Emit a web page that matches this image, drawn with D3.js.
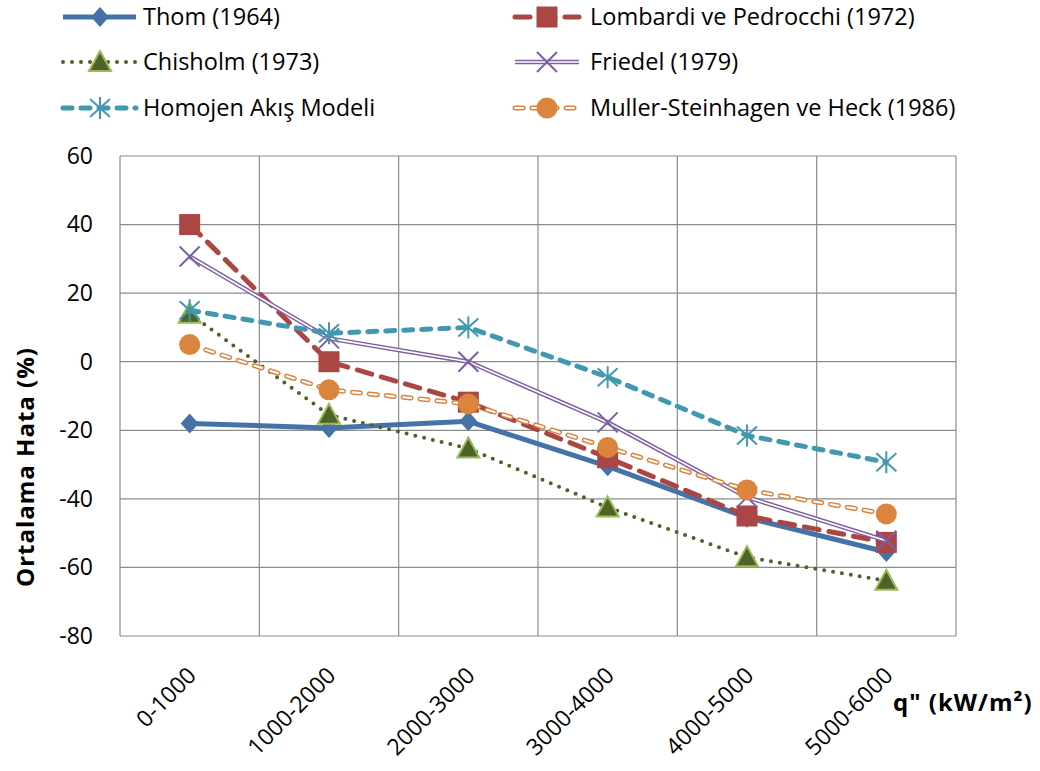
<html>
<script src="https://d3js.org/d3.v7.min.js"></script>
<style>
    body { margin: 0; background: #fff; }
    text { font-family: "Open Sans", sans-serif; fill: #000; }
</style>

<body>
    <script>
        var width = 1040;
        var height = 771;

        // data
        var categories = ["0-1000", "1000-2000", "2000-3000", "3000-4000", "4000-5000", "5000-6000"];
        var thom = [-18, -19.3, -17.4, -30.5, -45.5, -55.5];
        var lombardi = [40, 0, -11.8, -28, -45, -52.7];
        var chisholm = [14, -15.5, -25.3, -42.5, -57, -63.9];
        var friedel = [30.7, 6.8, 0, -17.7, -39.5, -52.2];
        var homojen = [15, 8.3, 10, -4.5, -21.5, -29.3];
        var muller = [5, -8.2, -12.3, -25, -37.4, -44.4];
        var yTicks = [60, 40, 20, 0, -20, -40, -60, -80];

        var series = [
            { name: "Thom (1964)", values: thom, marker: "diamond", color: "#4572A7", style: "solid" },
            { name: "Lombardi ve Pedrocchi (1972)", values: lombardi, marker: "square", color: "#AA4643", style: "dash" },
            { name: "Chisholm (1973)", values: chisholm, marker: "triangle", color: "#4F6228", style: "dot" },
            { name: "Friedel (1979)", values: friedel, marker: "x", color: "#7E5FA0", style: "double" },
            { name: "Homojen Akış Modeli", values: homojen, marker: "star", color: "#4198AF", style: "dash2" },
            { name: "Muller-Steinhagen ve Heck (1986)", values: muller, marker: "circle", color: "#DB843D", style: "doubledash" }
        ];

        var svg = d3.select("body").append("svg")
            .attr("width", width)
            .attr("height", height);

        var x = d3.scaleBand().domain(categories).range([120, 956]).padding(0);
        var y = d3.scaleLinear().domain([-80, 60]).range([636, 156]);
        var cx = d => x(d) + x.bandwidth() / 2;

        // grid
        var grid = svg.append("g");
        grid.selectAll(".h").data(yTicks).enter().append("line")
            .attr("x1", 120).attr("x2", 956)
            .attr("y1", d => y(d)).attr("y2", d => y(d))
            .attr("stroke", "#8c8c8c").attr("stroke-width", 1.2);
        grid.selectAll(".v").data(d3.range(categories.length + 1)).enter().append("line")
            .attr("x1", i => 120 + i * x.bandwidth()).attr("x2", i => 120 + i * x.bandwidth())
            .attr("y1", 156).attr("y2", 636)
            .attr("stroke", "#8c8c8c").attr("stroke-width", 1.2);

        // y axis labels
        var yAxis = svg.append("g").attr("transform", "translate(120,0)")
            .call(d3.axisLeft(y).tickValues(yTicks).tickSize(0).tickPadding(27).tickFormat(d => String(d)));
        yAxis.select(".domain").remove();
        yAxis.selectAll("text").style("font-size", "23px").style("font-family", "Open Sans");

        // x axis labels
        var xAxis = svg.append("g").attr("transform", "translate(0,636)")
            .call(d3.axisBottom(x).tickSize(0).tickPadding(0));
        xAxis.select(".domain").remove();
        xAxis.selectAll("text")
            .style("font-size", "23px").style("font-family", "Open Sans")
            .attr("text-anchor", "end")
            .attr("dy", 0).attr("y", 0)
            .attr("transform", "translate(8,41) rotate(-45)");

        svg.append("text")
            .attr("transform", "translate(34,467) rotate(-90)")
            .attr("text-anchor", "middle")
            .style("font-size", "24px").style("font-weight", "bold").style("letter-spacing", "1px")
            .text("Ortalama Hata (%)");

        svg.append("text")
            .attr("x", 893).attr("y", 711)
            .style("font-size", "24px").style("font-weight", "bold").style("letter-spacing", "1px")
            .text("q\" (kW/m²)");

        function strokeLine(g, s, pathFn) {
            var c = s.color;
            if (s.style == "solid") {
                g.append("path").attr("d", pathFn).attr("fill", "none").attr("stroke", c).attr("stroke-width", 5);
            } else if (s.style == "dash") {
                g.append("path").attr("d", pathFn).attr("fill", "none").attr("stroke", c).attr("stroke-width", 5)
                    .attr("stroke-dasharray", "15,10").attr("stroke-linecap", "round");
            } else if (s.style == "dash2") {
                g.append("path").attr("d", pathFn).attr("fill", "none").attr("stroke", c).attr("stroke-width", 5)
                    .attr("stroke-dasharray", "9,9").attr("stroke-linecap", "round");
            } else if (s.style == "dot") {
                g.append("path").attr("d", pathFn).attr("fill", "none").attr("stroke", c).attr("stroke-width", 4)
                    .attr("stroke-dasharray", "0,9").attr("stroke-linecap", "round");
            } else if (s.style == "double") {
                g.append("path").attr("d", pathFn).attr("fill", "none").attr("stroke", c).attr("stroke-width", 4.5);
                g.append("path").attr("d", pathFn).attr("fill", "none").attr("stroke", "#fff").attr("stroke-width", 1.6);
            } else if (s.style == "doubledash") {
                g.append("path").attr("d", pathFn).attr("fill", "none").attr("stroke", c).attr("stroke-width", 5)
                    .attr("stroke-dasharray", "8,9").attr("stroke-linecap", "round");
                g.append("path").attr("d", pathFn).attr("fill", "none").attr("stroke", "#fff").attr("stroke-width", 2)
                    .attr("stroke-dasharray", "8,9").attr("stroke-linecap", "round");
            }
        }

        function drawMarker(g, s, px, py) {
            var c = s.color;
            if (s.marker == "diamond") {
                g.append("path").attr("d", `M${px},${py - 10}L${px + 9},${py}L${px},${py + 10}L${px - 9},${py}Z`).attr("fill", c);
            } else if (s.marker == "square") {
                g.append("rect").attr("x", px - 10.5).attr("y", py - 10.5).attr("width", 21).attr("height", 21)
                    .attr("fill", c);
            } else if (s.marker == "triangle") {
                g.append("path").attr("d", `M${px},${py - 11}L${px + 11},${py + 9}L${px - 11},${py + 9}Z`)
                    .attr("fill", c).attr("stroke", "#9BBB59").attr("stroke-width", 2);
            } else if (s.marker == "x") {
                g.append("path").attr("d", `M${px - 10},${py - 10}L${px + 10},${py + 10}M${px + 10},${py - 10}L${px - 10},${py + 10}`)
                    .attr("stroke", c).attr("stroke-width", 2);
            } else if (s.marker == "star") {
                g.append("path").attr("d", `M${px - 10},${py - 9}L${px + 10},${py + 9}M${px + 10},${py - 9}L${px - 10},${py + 9}M${px},${py - 11}L${px},${py + 11}`)
                    .attr("stroke", c).attr("stroke-width", 2);
            } else if (s.marker == "circle") {
                g.append("circle").attr("cx", px).attr("cy", py).attr("r", 10.5).attr("fill", c);
            }
        }

        var line = d3.line().x((d, i) => cx(categories[i])).y(d => y(d));

        series.forEach(s => {
            var g = svg.append("g");
            strokeLine(g, s, line(s.values));
            s.values.forEach((v, i) => drawMarker(g, s, cx(categories[i]), y(v)));
        });

        // legend
        var legendPos = [
            { x1: 63, x2: 136, mx: 100, tx: 143, ty: 17 },
            { x1: 515, x2: 579, mx: 547, tx: 590, ty: 17 },
            { x1: 63, x2: 136, mx: 100, tx: 143, ty: 62 },
            { x1: 515, x2: 579, mx: 547, tx: 590, ty: 62 },
            { x1: 63, x2: 136, mx: 100, tx: 143, ty: 108 },
            { x1: 515, x2: 579, mx: 547, tx: 590, ty: 108 }
        ];
        series.forEach((s, i) => {
            var p = legendPos[i];
            var g = svg.append("g");
            strokeLine(g, s, `M${p.x1},${p.ty}L${p.x2},${p.ty}`);
            drawMarker(g, s, p.mx, p.ty);
            g.append("text").attr("x", p.tx).attr("y", p.ty).attr("dy", "0.35em")
                .style("font-size", "23.5px").text(s.name);
        });
    </script>
</body>

</html>
